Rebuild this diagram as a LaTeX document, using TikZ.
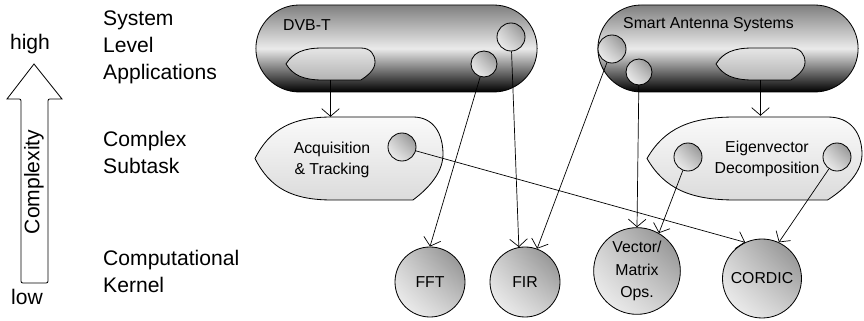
\documentclass[tikz,border=0pt]{standalone}
\usepackage{fontspec}
\setmainfont{Liberation Sans}
\usetikzlibrary{shapes.misc, arrows.meta, shadings}

% pointed task outline: style, left, top, right, bottom
\newcommand{\shipshape}[5]{%
  \path[#1] (#2,{(#3+#5)/2})
    .. controls ({#2+0.08*(#4-#2)},{#3+0.14*(#5-#3)}) and ({#2+0.2*(#4-#2)},#3) .. ({#2+0.41*(#4-#2)},#3)
    -- ({#2+0.84*(#4-#2)},#3)
    .. controls ({#2+0.95*(#4-#2)},#3) and (#4,{#3+0.2*(#5-#3)}) .. (#4,{#3+0.45*(#5-#3)})
    .. controls (#4,{#3+0.7*(#5-#3)}) and ({#2+0.9*(#4-#2)},{#3+0.9*(#5-#3)}) .. ({#2+0.84*(#4-#2)},#5)
    -- ({#2+0.41*(#4-#2)},#5)
    .. controls ({#2+0.2*(#4-#2)},#5) and ({#2+0.08*(#4-#2)},{#5-0.14*(#5-#3)}) .. (#2,{(#3+#5)/2}) -- cycle;}

\begin{document}
\begin{tikzpicture}[
    x=0.03cm, y=-0.03cm,
    capsule/.style={
        rounded rectangle,
        draw=black,
        line width=0.7pt,
        top color=black!50,
        bottom color=black,
        middle color=black!8
    },
    shipfill/.style={draw=black, line width=0.7pt, top color=black!10, bottom color=black!30},
    taskfill/.style={draw=black, line width=0.7pt, top color=black!2, bottom color=black!14},
    ball/.style={
        circle,
        draw=black,
        line width=0.7pt,
        inner sep=0pt,
        upper right=black!48,
        upper left=black!20,
        lower right=black!20,
        lower left=black!3
    },
    kernel/.style={ball, font=\fontsize{13.5}{19}\selectfont, align=center},
    inner/.style={font=\fontsize{13.5}{17.5}\selectfont, align=center, inner sep=0pt},
    level/.style={anchor=west, align=left, inner sep=0pt, font=\fontsize{18}{23}\selectfont},
    link/.style={
        -{Straight Barb[length=6.5pt, width=15pt]},
        line width=0.6pt
    }
]
\useasboundingbox (0,0) rectangle (864,321);

% Complexity scale
\node[level, anchor=center] (high) at (30,44) {high};
\node[level, anchor=center] (low) at (27,297) {low};
\draw[line width=0.7pt] (34,64) -- (62,99) -- (52,99) .. controls (48,99) .. (48,103)
    -- (48,279) .. controls (48,283) .. (44,283) -- (25,283) .. controls (21,283) .. (21,279)
    -- (21,103) .. controls (21,99) .. (17,99) -- (7,99) -- cycle;
\node[level, anchor=center, rotate=90] (cplx) at (34,182) {Complexity};

% Level names
\node[level] (sysl) at (103,47) {System\\Level\\Applications};
\node[level] (subl) at (103,152) {Complex\\Subtask};
\node[level] (kerl) at (103,271) {Computational\\Kernel};

% System level applications
\node[capsule, minimum width=8.67cm, minimum height=2.61cm] (dvb) at (396.5,48.5) {};
\node[capsule, minimum width=8.04cm, minimum height=2.61cm] (sas) at (728,48.5) {};
\node[inner, anchor=west] (dvbt) at (283,25) {DVB-T};
\node[inner, anchor=west] (sast) at (623,25) {Smart Antenna Systems};

\shipshape{shipfill}{286}{48}{375}{80}
\shipshape{shipfill}{716}{48}{805}{80}
\node[minimum width=2.67cm, minimum height=0.96cm] (dvbship) at (330.5,64) {};
\node[minimum width=2.67cm, minimum height=0.96cm] (sasship) at (760.5,64) {};

\node[ball, minimum size=0.78cm] (dvbc1) at (484,64) {};
\node[ball, minimum size=0.84cm] (dvbc2) at (511,37) {};
\node[ball, minimum size=0.84cm] (sasc1) at (612,49) {};
\node[ball, minimum size=0.78cm] (sasc2) at (639,72) {};

% Complex subtasks
\shipshape{taskfill}{255}{117}{443}{200}
\shipshape{taskfill}{647}{117}{862}{200}
\node[inner, minimum height=2.58cm] (acq) at (332,160) {Acquisition\\\& Tracking};
\node[inner, minimum height=2.58cm] (eig) at (767,159) {Eigenvector\\Decomposition};

\node[ball, minimum size=0.84cm] (acqc) at (402,147) {};
\node[ball, minimum size=0.84cm] (eigc1) at (688,157) {};
\node[ball, minimum size=0.84cm] (eigc2) at (837,157) {};

% Computational kernels
\node[kernel, minimum size=2.1cm] (fft) at (430,282) {FFT};
\node[kernel, minimum size=2.1cm] (fir) at (525,282) {FIR};
\node[kernel, minimum size=2.6cm] (vec) at (637,271) {Vector/\\Matrix\\Ops.};
\node[kernel, minimum size=2.37cm] (cordic) at (762,278.5) {CORDIC};

% Links
\draw[link] (dvbship.south) -- (dvbship.south |- acq.north);
\draw[link] (sasship.south) -- (sasship.south |- eig.north);
\draw[link] (dvbc1) -- (fft.north);
\draw[link] (dvbc2) -- (fir.100);
\draw[link] (sasc1) -- (fir.70);
\draw[link] (sasc2) -- (vec.north);
\draw[link] (eigc1) -- (vec.60);
\draw[link] (eigc2) -- (cordic.65);
\draw[link] (acqc) -- (cordic.115);

\end{tikzpicture}
\end{document}
